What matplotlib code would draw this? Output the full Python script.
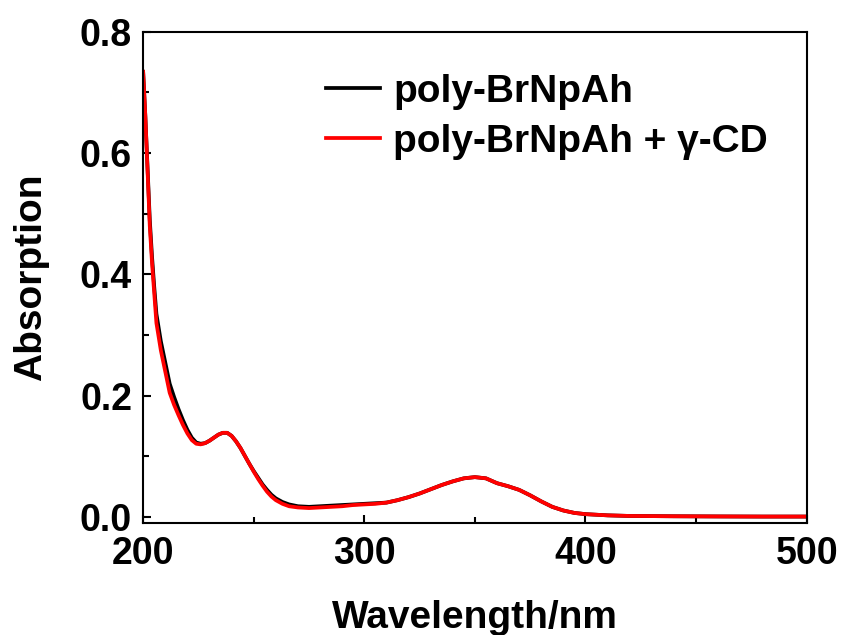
import matplotlib
matplotlib.use("Agg")
import matplotlib.pyplot as plt
from matplotlib.ticker import MultipleLocator

plt.rcParams['font.family'] = ['Liberation Sans', 'DejaVu Sans']
plt.rcParams['font.weight'] = 'bold'

# Dados
comprimento_onda = [200, 201, 202, 203, 204, 205, 206, 208, 210, 212, 214, 216, 218, 220,
                    222, 224, 226, 228, 230, 232, 234, 236, 238, 240, 242, 244, 246, 248,
                    250, 252, 254, 256, 258, 260, 263, 266, 270, 275, 280, 285, 290, 295,
                    300, 305, 310, 315, 320, 325, 330, 335, 340, 345, 350, 355, 360, 365,
                    370, 375, 380, 385, 390, 395, 400, 410, 420, 440, 460, 480, 500]

abs_polimero = [0.734, 0.66, 0.575, 0.49, 0.43, 0.38, 0.335, 0.29, 0.255, 0.22, 0.198, 0.178,
                0.16, 0.144, 0.131, 0.123, 0.121, 0.122, 0.126, 0.131, 0.136, 0.139, 0.139,
                0.134, 0.125, 0.114, 0.101, 0.088, 0.076, 0.065, 0.054, 0.045, 0.037, 0.031,
                0.025, 0.021, 0.018, 0.017, 0.018, 0.019, 0.020, 0.021, 0.022, 0.023, 0.024,
                0.028, 0.033, 0.039, 0.046, 0.053, 0.059, 0.064, 0.066, 0.064, 0.056, 0.051,
                0.045, 0.036, 0.026, 0.017, 0.011, 0.007, 0.005, 0.003, 0.002, 0.0015, 0.0012,
                0.001, 0.001]

abs_polimero_cd = [0.734, 0.66, 0.57, 0.48, 0.42, 0.37, 0.32, 0.275, 0.24, 0.205, 0.185, 0.168,
                   0.152, 0.138, 0.127, 0.121, 0.12, 0.122, 0.126, 0.131, 0.136, 0.139, 0.139,
                   0.134, 0.125, 0.114, 0.101, 0.088, 0.075, 0.063, 0.052, 0.042, 0.034, 0.028,
                   0.022, 0.018, 0.016, 0.015, 0.016, 0.017, 0.018, 0.020, 0.021, 0.022, 0.024,
                   0.028, 0.033, 0.039, 0.046, 0.053, 0.059, 0.064, 0.066, 0.064, 0.056, 0.051,
                   0.045, 0.036, 0.026, 0.017, 0.011, 0.007, 0.005, 0.003, 0.002, 0.0015, 0.0012,
                   0.001, 0.001]

rotulos = ["poly-BrNpAh", "poly-BrNpAh + γ-CD"]

fig = plt.figure(figsize=(8.42, 6.35), dpi=100)
ax = fig.add_axes([0.170, 0.176, 0.788, 0.774])

ax.plot(comprimento_onda, abs_polimero, color="black", linewidth=2.7, label=rotulos[0])
ax.plot(comprimento_onda, abs_polimero_cd, color="red", linewidth=2.7, label=rotulos[1])

ax.set_xlim(200, 500)
ax.set_ylim(-0.01, 0.8)
ax.xaxis.set_major_locator(MultipleLocator(100))
ax.xaxis.set_minor_locator(MultipleLocator(50))
ax.yaxis.set_major_locator(MultipleLocator(0.2))
ax.yaxis.set_minor_locator(MultipleLocator(0.1))
ax.tick_params(which="both", direction="in", width=1.5, labelsize=27)
ax.tick_params(axis="x", which="major", length=6, pad=9)
ax.tick_params(axis="y", which="major", length=6, pad=8)
ax.tick_params(which="minor", length=4)
for s in ax.spines.values():
    s.set_linewidth(1.5)

ax.set_xlabel("Wavelength/nm", fontsize=28, fontweight="bold", labelpad=20)
ax.set_ylabel("Absorption", fontsize=28, fontweight="bold", labelpad=22)

ax.legend(loc="upper left", bbox_to_anchor=(0.275, 0.915), frameon=False, fontsize=28,
          handlelength=1.41, handletextpad=0.33, labelspacing=0.36,
          borderpad=0, borderaxespad=0)

fig.savefig("out.png", dpi=100)
